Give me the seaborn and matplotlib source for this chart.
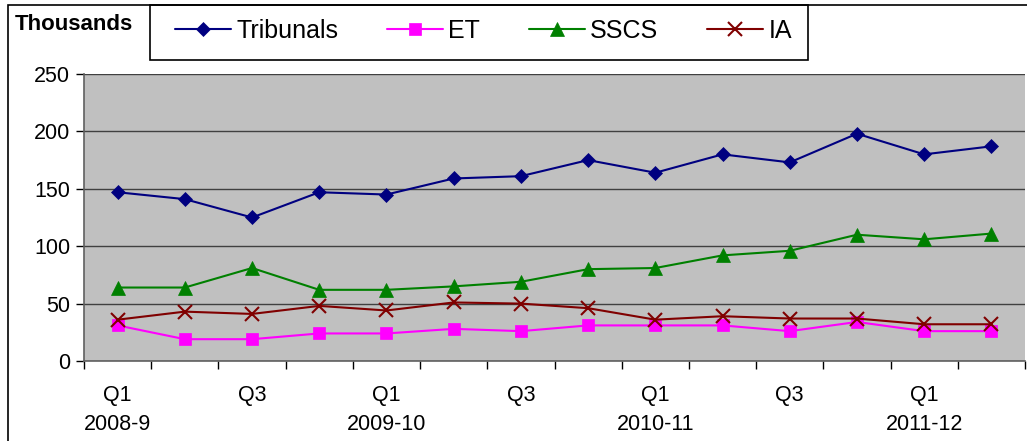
import matplotlib
matplotlib.use("Agg")
import matplotlib.pyplot as plt
import seaborn as sns
import pandas as pd
import numpy as np
from matplotlib.patches import Rectangle
from matplotlib.ticker import FixedLocator

quarters = ["Q1\n2008-9", "Q2 08", "Q3", "Q4 08", "Q1\n2009-10", "Q2 09", "Q3 09", "Q4 09",
            "Q1\n2010-11", "Q2 10", "Q3 10", "Q4 10", "Q1\n2011-12", "Q2 11"]
tick_labels = ["Q1\n2008-9", "", "Q3", "", "Q1\n2009-10", "", "Q3", "",
               "Q1\n2010-11", "", "Q3", "", "Q1\n2011-12", ""]
tribunals = [147, 141, 125, 147, 145, 159, 161, 175, 164, 180, 173, 198, 180, 187]
et = [31, 19, 19, 24, 24, 28, 26, 31, 31, 31, 26, 34, 26, 26]
sscs = [64, 64, 81, 62, 62, 65, 69, 80, 81, 92, 96, 110, 106, 111]
ia = [36, 43, 41, 48, 44, 51, 50, 46, 36, 39, 37, 37, 32, 32]

series = {"Tribunals": tribunals, "ET": et, "SSCS": sscs, "IA": ia}
colors = {"Tribunals": "#000080", "ET": "#FF00FF", "SSCS": "#008000", "IA": "#800000"}
markers = {"Tribunals": "D", "ET": "s", "SSCS": "^", "IA": "x"}
msizes = {"Tribunals": 7, "ET": 9, "SSCS": 10, "IA": 10}

sns.set_theme(style="white")
plt.rcParams["font.family"] = ["Liberation Sans", "DejaVu Sans"]
plt.rcParams["text.color"] = "black"
plt.rcParams["xtick.color"] = "black"
plt.rcParams["ytick.color"] = "black"

fig = plt.figure(figsize=(10.27, 4.41), dpi=100)
ax = fig.add_axes([84 / 1027, 80 / 441, 941 / 1027, 287 / 441])
ax.set_facecolor("#C0C0C0")

x = np.arange(len(quarters))
for name, vals in series.items():
    df = pd.DataFrame({"x": x, "y": vals})
    sns.lineplot(data=df, x="x", y="y", ax=ax, color=colors[name], marker=markers[name],
                 markersize=msizes[name], markeredgewidth=1.5 if name == "IA" else 0.5,
                 markeredgecolor=colors[name], linewidth=1.5, label=name, legend=False)

ax.set_xlim(-0.5, len(quarters) - 0.5)
ax.set_ylim(0, 250)
ax.set_yticks([0, 50, 100, 150, 200, 250])
ax.set_xticks(x)
ax.set_xticklabels(tick_labels, fontsize=15.5, linespacing=1.5, color="black")
ax.xaxis.set_minor_locator(FixedLocator(np.arange(-0.5, len(quarters), 1.0)))
ax.tick_params(axis="x", which="major", length=0, pad=17)
ax.tick_params(axis="x", which="minor", length=6, width=1, color="black", direction="out", bottom=True)
ax.tick_params(axis="y", length=6, width=1, color="black", direction="out", left=True,
               labelsize=15.5, pad=4, labelcolor="black")
ax.set_xlabel("")
ax.set_ylabel("")
ax.yaxis.grid(True, color="#404040", linewidth=1)
ax.set_axisbelow(True)
for s in ["top", "right"]:
    ax.spines[s].set_visible(False)
for s in ["left", "bottom"]:
    ax.spines[s].set_color("#606060")
    ax.spines[s].set_linewidth(1.2)

# outer frame
fig.patches.append(Rectangle((8 / 1027, -0.1), 1.2, (436 / 441) + 0.1, transform=fig.transFigure,
                             fill=False, edgecolor="black", linewidth=1.2))
fig.text(15 / 1027, 1 - 24 / 441, "Thousands", fontsize=16, fontweight="bold", va="center",
         ha="left", color="black")

# legend box
fig.patches.append(Rectangle((150 / 1027, 1 - 60 / 441), 658 / 1027, 55 / 441, transform=fig.transFigure,
                             facecolor="white", edgecolor="black", linewidth=1.2, zorder=0))
handles, labels = ax.get_legend_handles_labels()
leg = fig.legend(handles, labels, ncol=4, loc="center left",
                 bbox_to_anchor=(175 / 1027, 1 - 31 / 441),
                 fontsize=18, frameon=False, borderpad=0, borderaxespad=0,
                 handlelength=2.25, handletextpad=0.2, columnspacing=1.95)

fig.savefig("out.png", dpi=100)
